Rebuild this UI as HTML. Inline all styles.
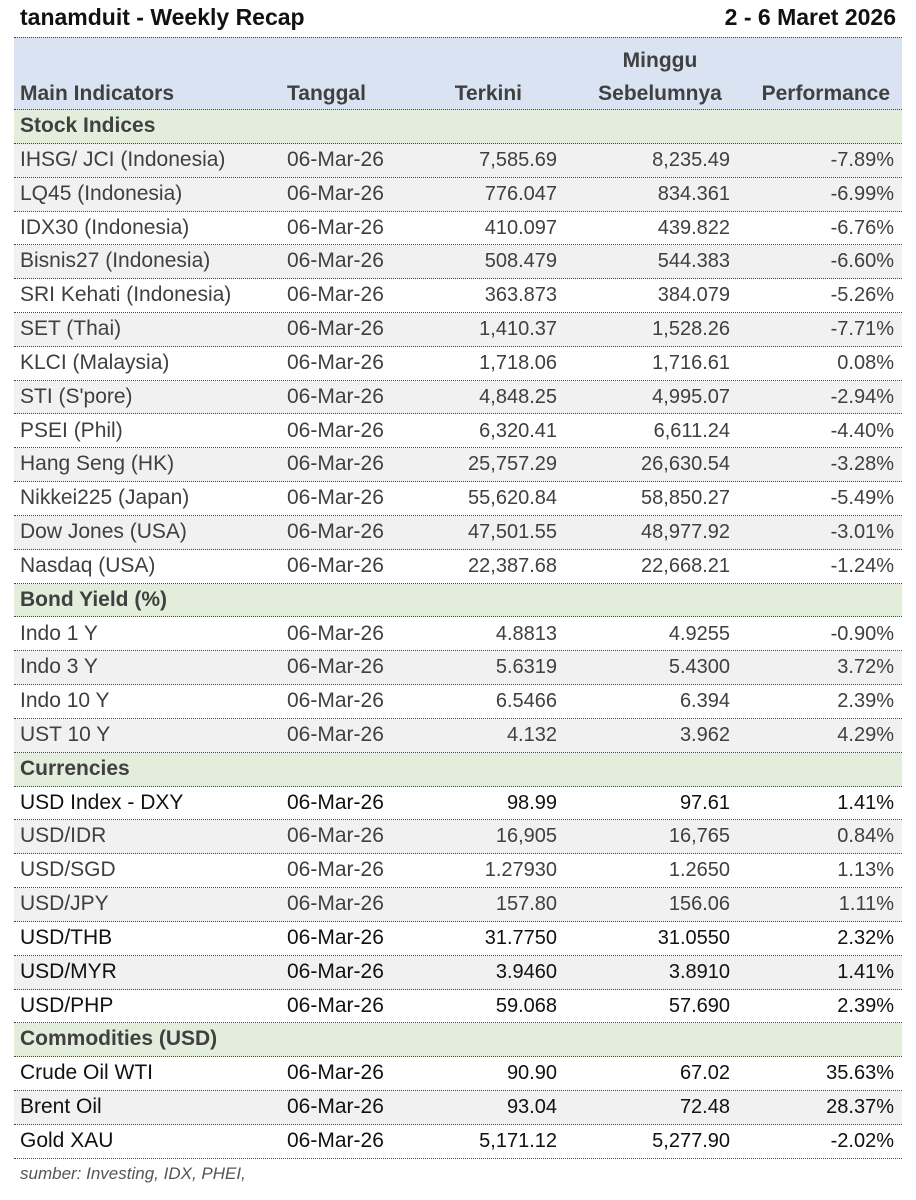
<!DOCTYPE html>
<html><head><meta charset="utf-8"><style>
body{margin:0;width:916px;height:1200px;background:#fff;font-family:"Liberation Sans",sans-serif;position:relative;overflow:hidden;color:#404040}
.t{position:absolute;left:20px;top:4px;font-size:23px;font-weight:bold;color:#111}
.d{position:absolute;right:20px;top:4px;font-size:23px;font-weight:bold;color:#111}
.hdr{position:absolute;left:14px;width:888px;top:37px;height:73px;background:#dae3f2;border-top:1px dotted #444;border-bottom:1px dotted #444;box-sizing:border-box;font-weight:bold;font-size:21px}
.hdr div{position:absolute}
.r{position:absolute;left:14px;width:888px;height:33.83px;border-bottom:1px dotted #444;box-sizing:border-box;font-size:20px;line-height:33px}
.r span{position:absolute;top:0}
.a{left:6px;font-size:21px}.b{left:273px;font-size:21px}.r span.a,.r span.b{top:-1px}.c{right:345px}.e{right:172px}.f{right:8px}
.g{background:#f1f1f1}.w{background:#fff}.s{background:#e2eedb;font-weight:bold}
.k{color:#111}
.src{position:absolute;left:20px;top:1164px;font-size:17px;font-style:italic;color:#555}
</style></head><body>
<div class="t">tanamduit - Weekly Recap</div>
<div class="d">2 - 6 Maret 2026</div>
<div class="hdr">
<div style="left:6px;top:44px">Main Indicators</div>
<div style="left:273px;top:44px">Tanggal</div>
<div style="right:380px;top:44px">Terkini</div>
<div style="left:576px;width:140px;text-align:center;top:11px">Minggu</div>
<div style="left:566px;width:160px;text-align:center;top:44px">Sebelumnya</div>
<div style="right:12px;top:44px">Performance</div>
</div>
<div class="r s" style="top:110px"><span class="a">Stock Indices</span></div>
<div class="r g" style="top:143.8px"><span class="a">IHSG/ JCI (Indonesia)</span><span class="b">06-Mar-26</span><span class="c">7,585.69</span><span class="e">8,235.49</span><span class="f">-7.89%</span></div>
<div class="r g" style="top:177.7px"><span class="a">LQ45 (Indonesia)</span><span class="b">06-Mar-26</span><span class="c">776.047</span><span class="e">834.361</span><span class="f">-6.99%</span></div>
<div class="r w" style="top:211.5px"><span class="a">IDX30 (Indonesia)</span><span class="b">06-Mar-26</span><span class="c">410.097</span><span class="e">439.822</span><span class="f">-6.76%</span></div>
<div class="r g" style="top:245.3px"><span class="a">Bisnis27 (Indonesia)</span><span class="b">06-Mar-26</span><span class="c">508.479</span><span class="e">544.383</span><span class="f">-6.60%</span></div>
<div class="r w" style="top:279.2px"><span class="a">SRI Kehati (Indonesia)</span><span class="b">06-Mar-26</span><span class="c">363.873</span><span class="e">384.079</span><span class="f">-5.26%</span></div>
<div class="r g" style="top:313px"><span class="a">SET (Thai)</span><span class="b">06-Mar-26</span><span class="c">1,410.37</span><span class="e">1,528.26</span><span class="f">-7.71%</span></div>
<div class="r w" style="top:346.8px"><span class="a">KLCI (Malaysia)</span><span class="b">06-Mar-26</span><span class="c">1,718.06</span><span class="e">1,716.61</span><span class="f">0.08%</span></div>
<div class="r g" style="top:380.6px"><span class="a">STI (S'pore)</span><span class="b">06-Mar-26</span><span class="c">4,848.25</span><span class="e">4,995.07</span><span class="f">-2.94%</span></div>
<div class="r w" style="top:414.5px"><span class="a">PSEI (Phil)</span><span class="b">06-Mar-26</span><span class="c">6,320.41</span><span class="e">6,611.24</span><span class="f">-4.40%</span></div>
<div class="r g" style="top:448.3px"><span class="a">Hang Seng (HK)</span><span class="b">06-Mar-26</span><span class="c">25,757.29</span><span class="e">26,630.54</span><span class="f">-3.28%</span></div>
<div class="r w" style="top:482.1px"><span class="a">Nikkei225 (Japan)</span><span class="b">06-Mar-26</span><span class="c">55,620.84</span><span class="e">58,850.27</span><span class="f">-5.49%</span></div>
<div class="r g" style="top:516px"><span class="a">Dow Jones (USA)</span><span class="b">06-Mar-26</span><span class="c">47,501.55</span><span class="e">48,977.92</span><span class="f">-3.01%</span></div>
<div class="r w" style="top:549.8px"><span class="a">Nasdaq (USA)</span><span class="b">06-Mar-26</span><span class="c">22,387.68</span><span class="e">22,668.21</span><span class="f">-1.24%</span></div>
<div class="r s" style="top:583.6px"><span class="a">Bond Yield (%)</span></div>
<div class="r w" style="top:617.5px"><span class="a">Indo 1 Y</span><span class="b">06-Mar-26</span><span class="c">4.8813</span><span class="e">4.9255</span><span class="f">-0.90%</span></div>
<div class="r g" style="top:651.3px"><span class="a">Indo 3 Y</span><span class="b">06-Mar-26</span><span class="c">5.6319</span><span class="e">5.4300</span><span class="f">3.72%</span></div>
<div class="r w" style="top:685.1px"><span class="a">Indo 10 Y</span><span class="b">06-Mar-26</span><span class="c">6.5466</span><span class="e">6.394</span><span class="f">2.39%</span></div>
<div class="r g" style="top:719px"><span class="a">UST 10 Y</span><span class="b">06-Mar-26</span><span class="c">4.132</span><span class="e">3.962</span><span class="f">4.29%</span></div>
<div class="r s" style="top:752.8px"><span class="a">Currencies</span></div>
<div class="r w k" style="top:786.6px"><span class="a">USD Index - DXY</span><span class="b">06-Mar-26</span><span class="c">98.99</span><span class="e">97.61</span><span class="f">1.41%</span></div>
<div class="r g" style="top:820.4px"><span class="a">USD/IDR</span><span class="b">06-Mar-26</span><span class="c">16,905</span><span class="e">16,765</span><span class="f">0.84%</span></div>
<div class="r w" style="top:854.3px"><span class="a">USD/SGD</span><span class="b">06-Mar-26</span><span class="c">1.27930</span><span class="e">1.2650</span><span class="f">1.13%</span></div>
<div class="r g" style="top:888.1px"><span class="a">USD/JPY</span><span class="b">06-Mar-26</span><span class="c">157.80</span><span class="e">156.06</span><span class="f">1.11%</span></div>
<div class="r w k" style="top:921.9px"><span class="a">USD/THB</span><span class="b">06-Mar-26</span><span class="c">31.7750</span><span class="e">31.0550</span><span class="f">2.32%</span></div>
<div class="r g k" style="top:955.8px"><span class="a">USD/MYR</span><span class="b">06-Mar-26</span><span class="c">3.9460</span><span class="e">3.8910</span><span class="f">1.41%</span></div>
<div class="r w k" style="top:989.6px"><span class="a">USD/PHP</span><span class="b">06-Mar-26</span><span class="c">59.068</span><span class="e">57.690</span><span class="f">2.39%</span></div>
<div class="r s" style="top:1023.4px"><span class="a">Commodities (USD)</span></div>
<div class="r w k" style="top:1057.3px"><span class="a">Crude Oil WTI</span><span class="b">06-Mar-26</span><span class="c">90.90</span><span class="e">67.02</span><span class="f">35.63%</span></div>
<div class="r g k" style="top:1091.1px"><span class="a">Brent Oil</span><span class="b">06-Mar-26</span><span class="c">93.04</span><span class="e">72.48</span><span class="f">28.37%</span></div>
<div class="r w k" style="top:1124.9px"><span class="a">Gold XAU</span><span class="b">06-Mar-26</span><span class="c">5,171.12</span><span class="e">5,277.90</span><span class="f">-2.02%</span></div>
<div class="src">sumber: Investing, IDX, PHEI,</div>
</body></html>
